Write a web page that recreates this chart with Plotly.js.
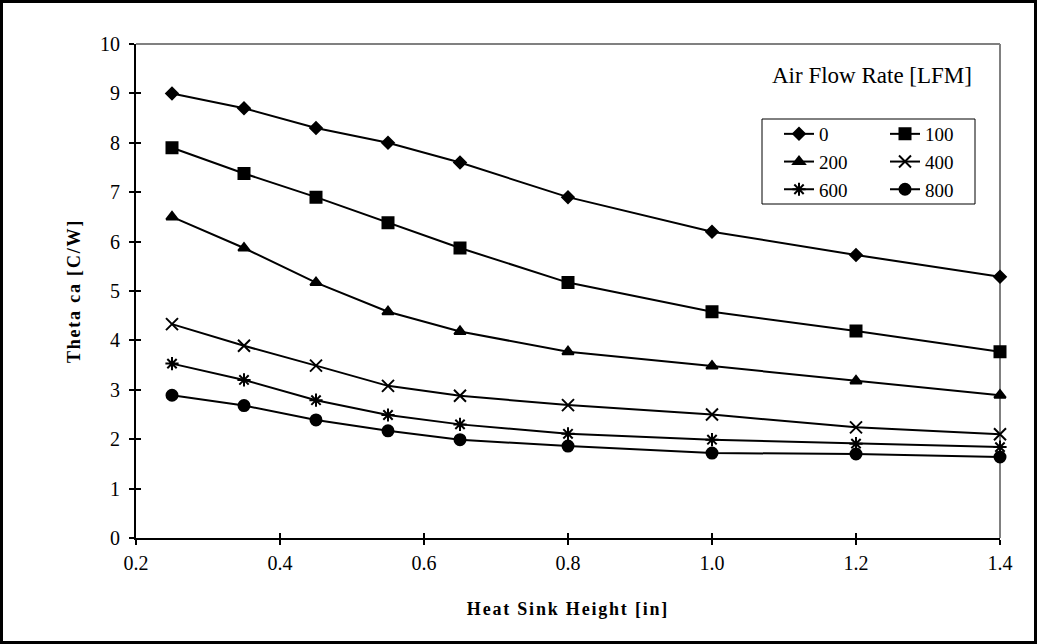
<!DOCTYPE html>
<html>
<head>
<meta charset="utf-8">
<script src="https://cdn.plot.ly/plotly-3.0.1.min.js"></script>
<style>
html,body{margin:0;padding:0;background:#fff;}
#chart{width:1037px;height:644px;}
.xtitle{letter-spacing:1.8px;}
.ytitle{letter-spacing:1.8px;}
</style>
</head>
<body>
<div id="chart"></div>
<script>
// Heat sink height [in]
const heights = [0.25, 0.35, 0.45, 0.55, 0.65, 0.8, 1.0, 1.2, 1.4];
// Theta ca [C/W] per air flow rate [LFM]
const lfm0   = [9.0, 8.7, 8.3, 8.0, 7.6, 6.9, 6.2, 5.73, 5.29];
const lfm100 = [7.9, 7.38, 6.9, 6.38, 5.87, 5.17, 4.58, 4.19, 3.77];
const lfm200 = [6.5, 5.87, 5.17, 4.58, 4.18, 3.77, 3.48, 3.18, 2.89];
const lfm400 = [4.33, 3.89, 3.49, 3.08, 2.88, 2.69, 2.5, 2.24, 2.1];
const lfm600 = [3.53, 3.2, 2.79, 2.49, 2.3, 2.11, 1.99, 1.91, 1.84];
const lfm800 = [2.89, 2.68, 2.39, 2.17, 1.99, 1.86, 1.72, 1.7, 1.64];
const seriesNames = ['0', '100', '200', '400', '600', '800'];
const xTicks = [0.2, 0.4, 0.6, 0.8, 1.0, 1.2, 1.4];
const xTickText = ['0.2', '0.4', '0.6', '0.8', '1.0', '1.2', '1.4'];
const yTicks = [0, 1, 2, 3, 4, 5, 6, 7, 8, 9, 10];

const FONT = 'Liberation Serif';
const seriesData = [lfm0, lfm100, lfm200, lfm400, lfm600, lfm800];
const symbols = ['diamond', 'square', 'triangle-up', 'x-thin-open', 'asterisk-open', 'circle'];
const sizes = [9, 11, 10, 12, 11, 11];
const legendOf = ['legend', 'legend2', 'legend', 'legend2', 'legend', 'legend2'];

const traces = seriesData.map((ys, i) => ({
  type: 'scatter', mode: 'lines+markers',
  x: heights, y: ys, name: seriesNames[i],
  legend: legendOf[i],
  cliponaxis: false,
  line: {color: '#000', width: 2},
  marker: {symbol: symbols[i], size: sizes[i], color: '#000', line: {color: '#000', width: 2}}
}));
// overlay axes only for inside tick marks (cross ticks)
traces.push({type: 'scatter', x: [], y: [], xaxis: 'x2', yaxis: 'y2', showlegend: false, hoverinfo: 'skip'});

const W = 1037, H = 644, L = 136, R = 37, T = 44, B = 106;
const pw = W - L - R, ph = H - T - B;
const px = v => (v - L) / pw;
const py = v => (H - B - v) / ph;

const layout = {
  width: W, height: H,
  margin: {l: L, r: R, t: T, b: B},
  paper_bgcolor: '#fff', plot_bgcolor: '#fff',
  font: {family: FONT, color: '#000', size: 20},
  showlegend: true,
  xaxis: {
    range: [0.2, 1.4], tickvals: xTicks, ticktext: xTickText,
    showgrid: false, zeroline: false, showline: true, linecolor: '#000', linewidth: 2,
    ticks: 'outside', ticklen: 5, tickwidth: 2, tickcolor: '#000',
    tickfont: {family: FONT, size: 20, color: '#000'},
    ticklabelstandoff: 1,
    title: {text: 'Heat Sink Height [in]', font: {family: FONT, size: 18, color: '#000', weight: 'bold'}, standoff: 29},
    automargin: false
  },
  yaxis: {
    range: [0, 10], tickvals: yTicks,
    showgrid: false, zeroline: false, showline: true, linecolor: '#000', linewidth: 2,
    ticks: 'outside', ticklen: 5, tickwidth: 2, tickcolor: '#000',
    tickfont: {family: FONT, size: 20, color: '#000'},
    ticklabelstandoff: 5,
    title: {text: 'Theta ca [C/W]', font: {family: FONT, size: 18, color: '#000', weight: 'bold'}, standoff: 15},
    automargin: false
  },
  xaxis2: {overlaying: 'x', anchor: 'y2', side: 'bottom', range: [0.2, 1.4], tickvals: xTicks,
    showticklabels: false, showgrid: false, zeroline: false, showline: false,
    ticks: 'inside', ticklen: 5, tickwidth: 2, tickcolor: '#000'},
  yaxis2: {overlaying: 'y', anchor: 'x2', side: 'left', range: [0, 10], tickvals: yTicks,
    showticklabels: false, showgrid: false, zeroline: false, showline: false,
    ticks: 'inside', ticklen: 5, tickwidth: 2, tickcolor: '#000'},
  legend: {
    x: px(779), y: py(115), xanchor: 'left', yanchor: 'top',
    bgcolor: 'rgba(0,0,0,0)', borderwidth: 0,
    font: {family: FONT, size: 19, color: '#000'},
    tracegroupgap: 0, itemwidth: 30
  },
  legend2: {
    x: px(885), y: py(115), xanchor: 'left', yanchor: 'top',
    bgcolor: 'rgba(0,0,0,0)', borderwidth: 0,
    font: {family: FONT, size: 19, color: '#000'},
    tracegroupgap: 0, itemwidth: 30
  },
  annotations: [{
    xref: 'paper', yref: 'paper', x: px(974), y: py(76), xanchor: 'right', yanchor: 'middle',
    text: 'Air Flow Rate [LFM]', showarrow: false,
    font: {family: FONT, size: 23, color: '#000'}
  }],
  shapes: [
    // plot area top and right border (gray)
    {type: 'line', xref: 'paper', yref: 'paper', x0: 0, x1: 1, y0: 1, y1: 1, line: {color: '#808080', width: 2}, layer: 'below'},
    {type: 'line', xref: 'paper', yref: 'paper', x0: 1, x1: 1, y0: 0, y1: 1, line: {color: '#808080', width: 2}, layer: 'below'},
    // legend box
    {type: 'rect', xref: 'paper', yref: 'paper', x0: px(762), x1: px(975), y0: py(204), y1: py(119), line: {color: '#000', width: 1}},
    // outer chart border
    {type: 'rect', xref: 'paper', yref: 'paper', x0: px(1.5), x1: px(1035.5), y0: py(642.5), y1: py(1.5), line: {color: '#000', width: 3}}
  ]
};

Plotly.newPlot('chart', traces, layout, {staticPlot: true, displayModeBar: false});
</script>
</body>
</html>
